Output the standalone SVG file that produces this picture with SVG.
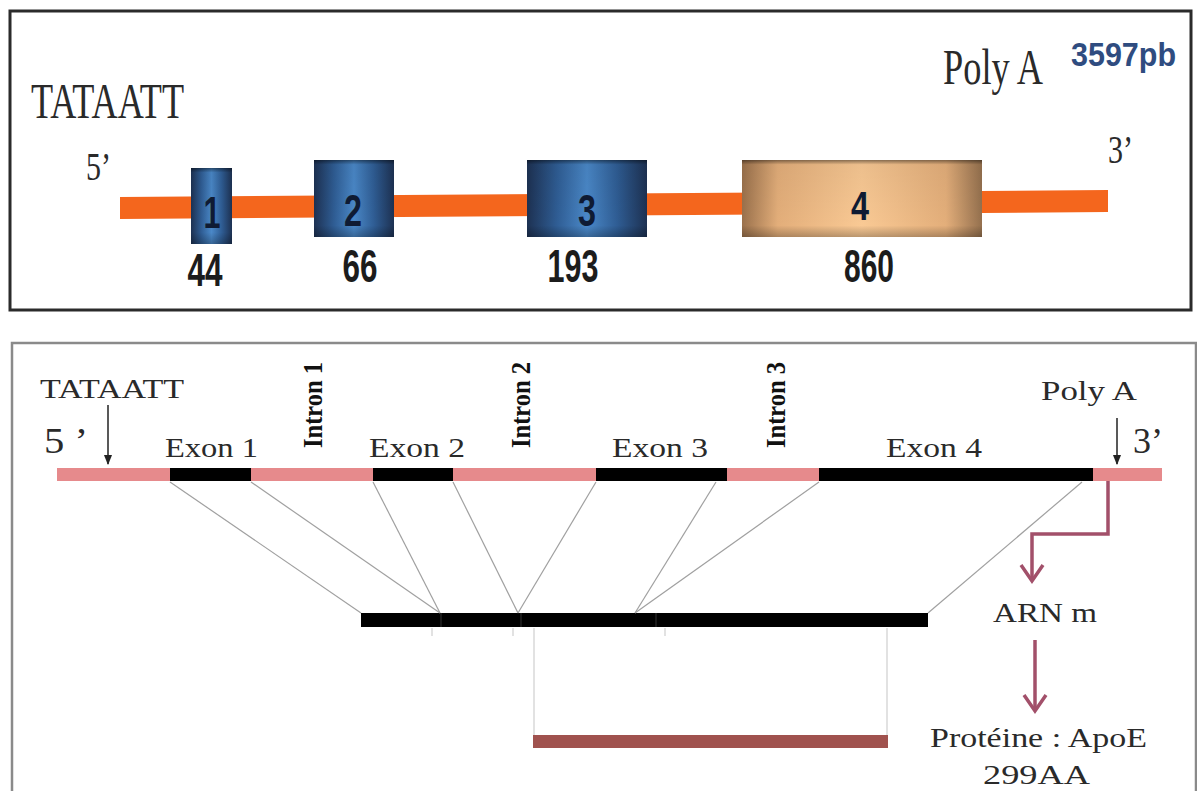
<svg xmlns="http://www.w3.org/2000/svg" width="1197" height="791" viewBox="0 0 1197 791">
  <defs>
    <linearGradient id="blueBox" x1="0" y1="0" x2="1" y2="0">
      <stop offset="0" stop-color="#1d3152"/>
      <stop offset="0.25" stop-color="#2f5d94"/>
      <stop offset="0.5" stop-color="#4a88c8"/>
      <stop offset="0.75" stop-color="#2f5d94"/>
      <stop offset="1" stop-color="#1d3152"/>
    </linearGradient>
    <linearGradient id="tanBox" x1="0" y1="0" x2="1" y2="0">
      <stop offset="0" stop-color="#9a714c"/>
      <stop offset="0.15" stop-color="#e3ae7a"/>
      <stop offset="0.5" stop-color="#f9c994"/>
      <stop offset="0.85" stop-color="#e3ae7a"/>
      <stop offset="1" stop-color="#94704e"/>
    </linearGradient>
    <linearGradient id="shadeV" x1="0" y1="0" x2="0" y2="1">
      <stop offset="0" stop-color="#000" stop-opacity="0.45"/>
      <stop offset="0.06" stop-color="#000" stop-opacity="0.05"/>
      <stop offset="0.85" stop-color="#000" stop-opacity="0"/>
      <stop offset="1" stop-color="#000" stop-opacity="0.25"/>
    </linearGradient>
    <marker id="tip" viewBox="0 0 10 10" refX="9" refY="5" markerWidth="7" markerHeight="7" orient="auto">
      <path d="M0,1 L10,5 L0,9 z" fill="#222"/>
    </marker>
  </defs>
  <style>
    .serif { font-family: "Liberation Serif", "Times New Roman", serif; fill: #2a2a2a; }
    .sans { font-family: "Liberation Sans", Arial, sans-serif; font-weight: bold; }
    .digit { fill: #0f1b33; text-anchor: middle; }
    .size { fill: #1c1c1c; }
    .intron { font-family: "Liberation Serif", "Times New Roman", serif; font-weight: bold; font-size: 27px; fill: #111; }
    .exon-g { fill: #000; }
    .link { stroke: #a0a0a0; stroke-width: 1.2; fill: none; }
    .guide { stroke: #cfcfcf; stroke-width: 1.2; fill: none; }
    .flow { stroke: #a2506a; stroke-width: 3.5; fill: none; stroke-linejoin: miter; }
  </style>

  <!-- Panel 1: gene map with exon sizes -->
  <g id="panel-gene-map">
    <rect x="10" y="11" width="1181" height="299" fill="#fff" stroke="#2b2b2b" stroke-width="3"/>
    <text class="serif" x="31" y="118" font-size="50" textLength="153" lengthAdjust="spacingAndGlyphs">TATAATT</text>
    <text class="serif" x="86" y="180" font-size="40" textLength="25" lengthAdjust="spacingAndGlyphs">5’</text>
    <text class="serif" x="1108" y="163" font-size="40" textLength="25" lengthAdjust="spacingAndGlyphs">3’</text>
    <text class="serif" x="943" y="84" font-size="50" textLength="100" lengthAdjust="spacingAndGlyphs">Poly A</text>
    <text class="sans" x="1071" y="66" font-size="34" fill="#2f4c80" textLength="105" lengthAdjust="spacingAndGlyphs">3597pb</text>
    <!-- gene backbone -->
    <polygon points="120,197 1108,190 1108,212 120,219" fill="#f4661d"/>
  </g>

  <g id="exon-box-1">
    <rect x="191" y="168" width="41" height="76" fill="url(#blueBox)"/>
    <rect x="191" y="168" width="41" height="76" fill="url(#shadeV)"/>
    <text class="sans digit" x="212" y="228" font-size="44" textLength="17" lengthAdjust="spacingAndGlyphs">1</text>
    <text class="sans size" x="205" y="286" font-size="46" text-anchor="middle" textLength="35" lengthAdjust="spacingAndGlyphs">44</text>
  </g>
  <g id="exon-box-2">
    <rect x="314" y="160" width="80" height="77" fill="url(#blueBox)"/>
    <rect x="314" y="160" width="80" height="77" fill="url(#shadeV)"/>
    <text class="sans digit" x="353" y="226" font-size="44" textLength="18" lengthAdjust="spacingAndGlyphs">2</text>
    <text class="sans size" x="360" y="282" font-size="46" text-anchor="middle" textLength="35" lengthAdjust="spacingAndGlyphs">66</text>
  </g>
  <g id="exon-box-3">
    <rect x="527" y="160" width="120" height="77" fill="url(#blueBox)"/>
    <rect x="527" y="160" width="120" height="77" fill="url(#shadeV)"/>
    <text class="sans digit" x="587" y="226" font-size="44" textLength="18" lengthAdjust="spacingAndGlyphs">3</text>
    <text class="sans size" x="573" y="282" font-size="46" text-anchor="middle" textLength="51" lengthAdjust="spacingAndGlyphs">193</text>
  </g>
  <g id="exon-box-4">
    <rect x="742" y="160" width="240" height="77" fill="url(#tanBox)"/>
    <rect x="742" y="160" width="240" height="77" fill="url(#shadeV)"/>
    <text class="sans digit" x="860" y="220" font-size="40" fill="#1a1208" textLength="18" lengthAdjust="spacingAndGlyphs">4</text>
    <text class="sans size" x="869" y="282" font-size="46" text-anchor="middle" textLength="50" lengthAdjust="spacingAndGlyphs">860</text>
  </g>

  <!-- Panel 2: genomic DNA, splicing and translation -->
  <g id="panel-genomic">
    <path d="M12,791 V343 H1196 V791" fill="none" stroke="#8a8a8a" stroke-width="2.5"/>
    <text class="serif" x="40" y="398" font-size="27" textLength="144" lengthAdjust="spacingAndGlyphs">TATAATT</text>
    <text class="serif" x="44" y="453" font-size="36" textLength="44" lengthAdjust="spacingAndGlyphs">5 ’</text>
    <text class="serif" x="1041" y="400" font-size="27" textLength="96" lengthAdjust="spacingAndGlyphs">Poly A</text>
    <text class="serif" x="1133" y="453" font-size="36" textLength="30" lengthAdjust="spacingAndGlyphs">3’</text>
    <line x1="108" y1="405" x2="108" y2="464" stroke="#222" stroke-width="1.5" marker-end="url(#tip)"/>
    <line x1="1117" y1="418" x2="1117" y2="464" stroke="#222" stroke-width="1.5" marker-end="url(#tip)"/>
    <!-- DNA strand with exons -->
    <rect x="57" y="468" width="1105" height="13" fill="#e68a8c"/>
  </g>

  <g id="exon-1">
    <rect class="exon-g" x="170" y="468" width="81" height="13"/>
    <text class="serif" x="165" y="457" font-size="27" textLength="93" lengthAdjust="spacingAndGlyphs">Exon 1</text>
  </g>
  <g id="intron-1">
    <text class="intron" transform="translate(322,448) rotate(-90)" textLength="86" lengthAdjust="spacingAndGlyphs">Intron 1</text>
  </g>
  <g id="exon-2">
    <rect class="exon-g" x="373" y="468" width="80" height="13"/>
    <text class="serif" x="369" y="457" font-size="27" textLength="96" lengthAdjust="spacingAndGlyphs">Exon 2</text>
  </g>
  <g id="intron-2">
    <text class="intron" transform="translate(530,448) rotate(-90)" textLength="86" lengthAdjust="spacingAndGlyphs">Intron 2</text>
  </g>
  <g id="exon-3">
    <rect class="exon-g" x="596" y="468" width="131" height="13"/>
    <text class="serif" x="612" y="457" font-size="27" textLength="96" lengthAdjust="spacingAndGlyphs">Exon 3</text>
  </g>
  <g id="intron-3">
    <text class="intron" transform="translate(785,448) rotate(-90)" textLength="86" lengthAdjust="spacingAndGlyphs">Intron 3</text>
  </g>
  <g id="exon-4">
    <rect class="exon-g" x="819" y="468" width="274" height="13"/>
    <text class="serif" x="886" y="457" font-size="27" textLength="96" lengthAdjust="spacingAndGlyphs">Exon 4</text>
  </g>

  <g id="mrna">
    <rect x="361" y="613" width="567" height="14" fill="#000"/>
    <line x1="441" y1="613" x2="441" y2="627" stroke="#333" stroke-width="1"/>
    <line x1="521" y1="613" x2="521" y2="627" stroke="#333" stroke-width="1"/>
    <line x1="656" y1="613" x2="656" y2="627" stroke="#333" stroke-width="1"/>
    <text class="serif" x="993" y="622" font-size="28" textLength="104" lengthAdjust="spacingAndGlyphs">ARN m</text>
  </g>

  <g id="protein">
    <rect x="533" y="735" width="355" height="13" fill="#a0524e"/>
    <text class="serif" x="930" y="747" font-size="27" textLength="217" lengthAdjust="spacingAndGlyphs">Protéine : ApoE</text>
    <text class="serif" x="983" y="784" font-size="28" textLength="107" lengthAdjust="spacingAndGlyphs">299AA</text>
  </g>

  <g id="connectors">
    <!-- splicing: exon ends to mRNA junctions -->
    <line class="link" x1="170" y1="482" x2="361" y2="613"/>
    <line class="link" x1="251" y1="482" x2="440" y2="613"/>
    <line class="link" x1="373" y1="482" x2="440" y2="613"/>
    <line class="link" x1="453" y1="482" x2="518" y2="613"/>
    <line class="link" x1="596" y1="482" x2="518" y2="613"/>
    <line class="link" x1="716" y1="482" x2="635" y2="613"/>
    <line class="link" x1="819" y1="482" x2="635" y2="613"/>
    <line class="link" x1="1082" y1="482" x2="928" y2="613"/>
    <!-- coding region to protein -->
    <line class="guide" x1="534" y1="628" x2="534" y2="735"/>
    <line class="guide" x1="887" y1="628" x2="887" y2="735"/>
    <line class="guide" x1="432" y1="628" x2="432" y2="636"/>
    <line class="guide" x1="513" y1="628" x2="513" y2="636"/>
    <line class="guide" x1="665" y1="628" x2="665" y2="636"/>
    <!-- transcription and translation arrows -->
    <path class="flow" d="M1108,481 V534 H1032 V580"/>
    <polyline class="flow" points="1021,565 1032,581 1043,565" stroke-width="4"/>
    <path class="flow" d="M1035,640 V710"/>
    <polyline class="flow" points="1024,695 1035,711 1046,695" stroke-width="4"/>
  </g>
</svg>
